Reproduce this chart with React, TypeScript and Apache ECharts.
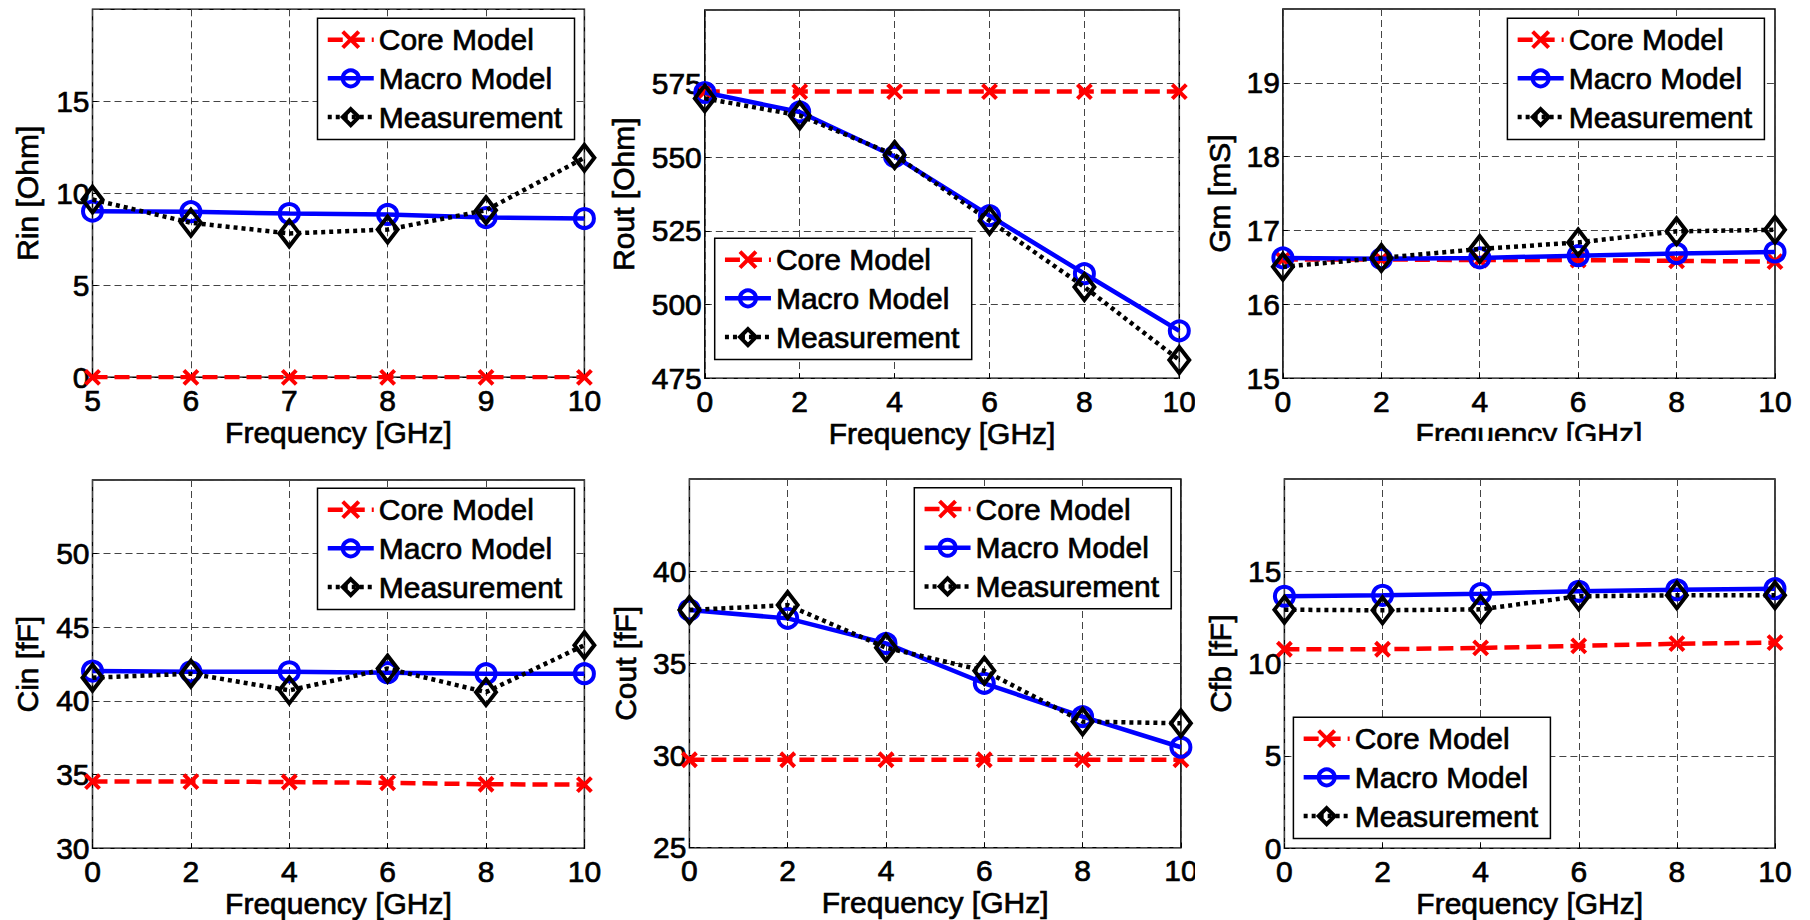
import React, { useEffect, useRef } from "react";
import * as echarts from "echarts";

// ---------- data ----------
const freqRin = [5, 6, 7, 8, 9, 10];
const freq = [0, 2, 4, 6, 8, 10];

const seriesNames = ["Core Model", "Macro Model", "Measurement"];

const rinCore = [0, 0, 0, 0, 0, 0];
const rinMacro = [9.03, 9.0, 8.9, 8.85, 8.68, 8.63];
const rinMeas = [9.66, 8.4, 7.82, 8.03, 9.08, 11.93];

const routCore = [572.3, 572.3, 572.3, 572.3, 572.3, 572.3];
const routMacro = [572, 565.4, 550.3, 530.2, 510.5, 491.1];
const routMeas = [570, 564.2, 550.8, 528.5, 506, 481.2];

const gmCore = [16.61, 16.61, 16.6, 16.6, 16.59, 16.58];
const gmMacro = [16.63, 16.62, 16.63, 16.66, 16.69, 16.71];
const gmMeas = [16.51, 16.63, 16.75, 16.84, 16.99, 17.01];

const cinCore = [34.53, 34.53, 34.5, 34.44, 34.35, 34.32];
const cinMacro = [42.03, 41.98, 41.98, 41.92, 41.85, 41.85];
const cinMeas = [41.58, 41.85, 40.72, 42.2, 40.6, 43.79];

const coutCore = [29.77, 29.77, 29.77, 29.77, 29.77, 29.77];
const coutMacro = [37.89, 37.44, 36.08, 33.92, 32.11, 30.45];
const coutMeas = [37.89, 38.16, 35.85, 34.6, 31.84, 31.75];

const cfbCore = [10.78, 10.78, 10.85, 10.96, 11.08, 11.14];
const cfbMacro = [13.65, 13.7, 13.79, 13.92, 14.0, 14.06];
const cfbMeas = [12.92, 12.89, 12.94, 13.65, 13.7, 13.7];

const yNames = ["Rin [Ohm]", "Rout [Ohm]", "Gm [mS]", "Cin [fF]", "Cout [fF]", "Cfb [fF]"];
const xName = "Frequency [GHz]";

// ---------- layout ----------
type Panel = {
  x: number[];
  core: number[];
  macro: number[];
  meas: number[];
  xMin: number; xMax: number; xInt: number;
  yMin: number; yMax: number; yInt: number;
  grid: [number, number, number, number];
  legend: [number, number];
  yGap: number;
};

const panels: Panel[] = [
  { x: freqRin, core: rinCore, macro: rinMacro, meas: rinMeas, xMin: 5, xMax: 10, xInt: 1, yMin: 0, yMax: 20, yInt: 5,
    grid: [92.5, 9.3, 491.9, 368], legend: [317.5, 18.3], yGap: 50 },
  { x: freq, core: routCore, macro: routMacro, meas: routMeas, xMin: 0, xMax: 10, xInt: 2, yMin: 475, yMax: 600, yInt: 25,
    grid: [704.8, 10, 474.5, 368.3], legend: [714.7, 238.3], yGap: 66 },
  { x: freq, core: gmCore, macro: gmMacro, meas: gmMeas, xMin: 0, xMax: 10, xInt: 2, yMin: 15, yMax: 20, yInt: 1,
    grid: [1282.9, 9, 492.1, 369.3], legend: [1507.4, 18.3], yGap: 48 },
  { x: freq, core: cinCore, macro: cinMacro, meas: cinMeas, xMin: 0, xMax: 10, xInt: 2, yMin: 30, yMax: 55, yInt: 5,
    grid: [92.5, 480, 491.9, 368.3], legend: [317.5, 488.3], yGap: 50 },
  { x: freq, core: coutCore, macro: coutMacro, meas: coutMeas, xMin: 0, xMax: 10, xInt: 2, yMin: 25, yMax: 45, yInt: 5,
    grid: [689.4, 479, 491.5, 368.7], legend: [914.3, 487.7], yGap: 49 },
  { x: freq, core: cfbCore, macro: cfbMacro, meas: cfbMeas, xMin: 0, xMax: 10, xInt: 2, yMin: 0, yMax: 20, yInt: 5,
    grid: [1284.4, 479, 490.6, 369.3], legend: [1293.4, 717.3], yGap: 49 },
];

const FONT = "'Liberation Sans', Arial, Helvetica, sans-serif";
const FS = 30;
const TXT = { fontSize: FS, color: "#000", fontFamily: FONT, textBorderColor: "#000", textBorderWidth: 0.7 };
const X_PATH = "path://M0,0L10,10M10,0L0,10";
const GRID_LINE = { color: "#444", type: [7, 4], width: 1 };

function buildOption() {
  const grid: any[] = [];
  const xAxis: any[] = [];
  const yAxis: any[] = [];
  const series: any[] = [];
  const legend: any[] = [];

  panels.forEach((p, i) => {
    grid.push({
      left: p.grid[0], top: p.grid[1], width: p.grid[2], height: p.grid[3],
      show: true, borderColor: "#000", borderWidth: 1.5, backgroundColor: "#fff",
      containLabel: false,
    });
    xAxis.push({
      type: "value", gridIndex: i, min: p.xMin, max: p.xMax, interval: p.xInt,
      name: xName, nameLocation: "middle", nameGap: 40,
      nameTextStyle: { ...TXT },
      axisLine: { show: false },
      axisTick: { show: true, inside: true, length: 5, lineStyle: { color: "#000", width: 1 } },
      axisLabel: { ...TXT, margin: 8 },
      splitLine: { show: true, lineStyle: GRID_LINE },
    });
    yAxis.push({
      type: "value", gridIndex: i, min: p.yMin, max: p.yMax, interval: p.yInt,
      name: yNames[i], nameLocation: "middle", nameGap: p.yGap,
      nameTextStyle: { ...TXT },
      axisLine: { show: false },
      axisTick: { show: true, inside: true, length: 5, lineStyle: { color: "#000", width: 1 } },
      axisLabel: { ...TXT, margin: 3, showMaxLabel: false },
      splitLine: { show: true, lineStyle: GRID_LINE },
    });
    const mk = (ys: number[]) => ys.map((v, k) => [p.x[k], v]);
    series.push({
      name: seriesNames[0], type: "line", xAxisIndex: i, yAxisIndex: i, data: mk(p.core),
      symbol: X_PATH, symbolSize: 14, symbolKeepAspect: true,
      itemStyle: { color: "rgba(0,0,0,0)", borderColor: "#ff0000", borderWidth: 4 },
      lineStyle: { color: "#ff0000", width: 4.5, type: [15, 7] },
      z: 2,
    });
    series.push({
      name: seriesNames[1], type: "line", xAxisIndex: i, yAxisIndex: i, data: mk(p.macro),
      symbol: "circle", symbolSize: 19,
      itemStyle: { color: "rgba(0,0,0,0)", borderColor: "#0000ff", borderWidth: 4 },
      lineStyle: { color: "#0000ff", width: 4.5, type: "solid" },
      z: 3,
    });
    series.push({
      name: seriesNames[2], type: "line", xAxisIndex: i, yAxisIndex: i, data: mk(p.meas),
      symbol: "diamond", symbolSize: [20, 26],
      itemStyle: { color: "rgba(0,0,0,0)", borderColor: "#000000", borderWidth: 4 },
      lineStyle: { color: "#000000", width: 4.5, type: [4, 4] },
      z: 4,
    });
    legend.push({
      left: p.legend[0], top: p.legend[1], orient: "vertical",
      data: seriesNames, selectedMode: false,
      backgroundColor: "#fff", borderColor: "#000", borderWidth: 1.5,
      padding: [6, 12, 7, 8], itemGap: 8, itemWidth: 46, itemHeight: 20,
      textStyle: { ...TXT },
      lineStyle: { width: 4.5 }, itemStyle: { borderWidth: 4 },
      z: 10,
    });
  });

  const graphic = [
    { type: "rect", shape: { x: 1195, y: 380, width: 10, height: 42 }, style: { fill: "#fff" }, z: 200 },
    { type: "rect", shape: { x: 1195, y: 850, width: 10, height: 42 }, style: { fill: "#fff" }, z: 200 },
    { type: "rect", shape: { x: 1380, y: 441, width: 300, height: 19 }, style: { fill: "#fff" }, z: 200 },
  ];

  return { animation: false, backgroundColor: "#fff", grid, xAxis, yAxis, series, legend, graphic };
}

export default function App() {
  const ref = useRef<HTMLDivElement>(null);
  useEffect(() => {
    if (!ref.current) return;
    const chart = echarts.init(ref.current, undefined, { renderer: "svg" });
    chart.setOption(buildOption() as any);
    return () => chart.dispose();
  }, []);
  return (
    <div
      ref={ref}
      style={{ position: "absolute", left: 0, top: 0, width: 1810, height: 920, background: "#fff" }}
    />
  );
}
